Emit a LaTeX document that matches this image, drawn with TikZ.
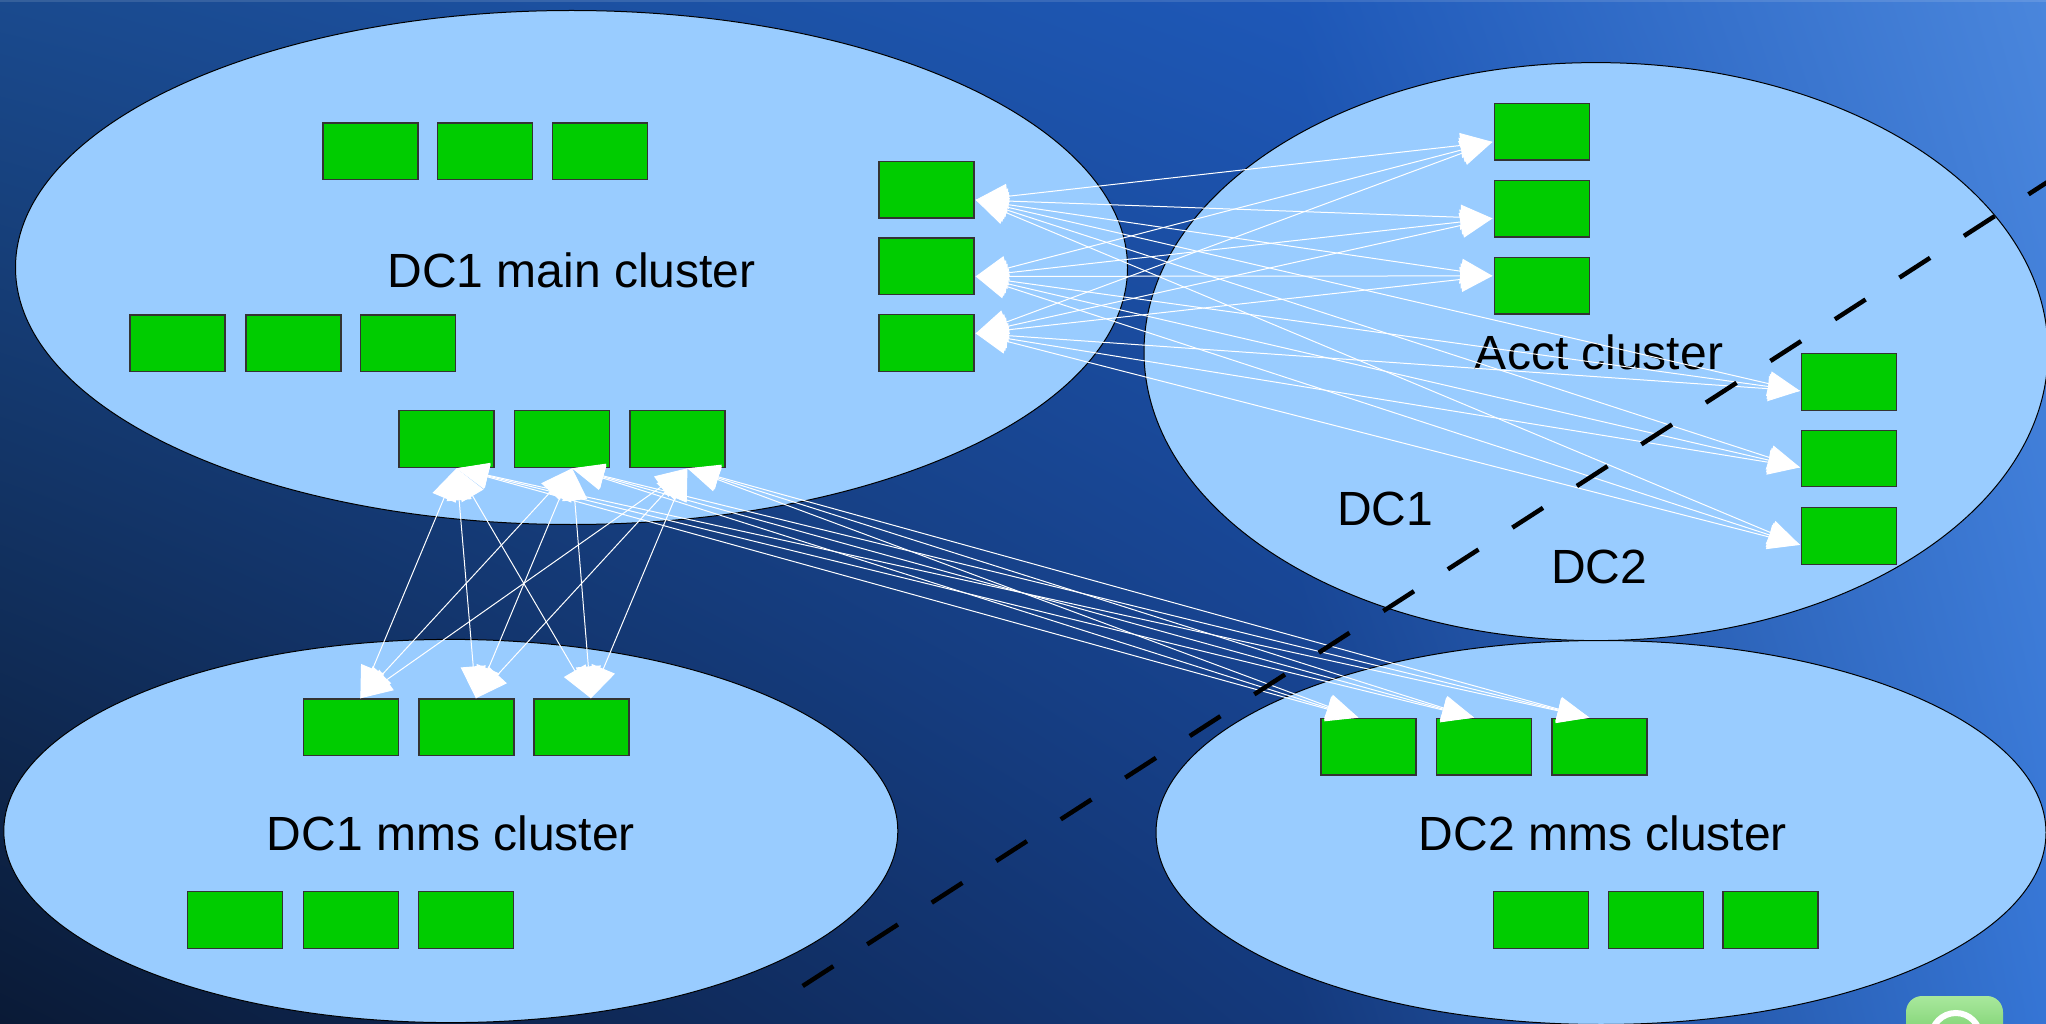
\documentclass[tikz,border=0pt]{standalone}
\usepackage{fontspec}
\setmainfont{Liberation Sans}
\usetikzlibrary{arrows.meta,calc,shadings}

\definecolor{skyUL}{HTML}{1A4A8E}
\definecolor{skyLL}{HTML}{0A1A36}
\definecolor{skyUM}{HTML}{1E58B8}
\definecolor{skyLM}{HTML}{14397C}
\definecolor{skyUR}{HTML}{4A86DC}
\definecolor{skyLR}{HTML}{3575D5}
\definecolor{cloudfill}{HTML}{99CCFF}
\definecolor{hostfill}{HTML}{00CC00}
\definecolor{iconTop}{HTML}{A8E89C}
\definecolor{iconBot}{HTML}{5CBF50}

\tikzset{
  cluster/.style={draw=black, line width=1pt, fill=cloudfill},
  host/.style={draw=black!80, line width=1.3pt, fill=hostfill,
    minimum width=95pt, minimum height=56.5pt, inner sep=0pt, anchor=north west},
  clustername/.style={font=\fontsize{48}{56}\selectfont, anchor=base, inner sep=0pt, text=black},
  wire/.style={draw=white, line width=1pt, >={Triangle[length=32pt,width=25pt]}, <->},
  dcsplit/.style={draw=black, line width=4.5pt, dash pattern=on 36.5pt off 40.3pt},
}

\begin{document}
\begin{tikzpicture}[x=1pt,y=-1pt]
\useasboundingbox (0,0) rectangle (2046,1024);
\clip (0,0) rectangle (2046,1024);

% backdrop: navy in the lower left, brightening towards the right edge
\shade[upper left=skyUL, upper right=skyUM, lower left=skyLL, lower right=skyLM]
  (0,0) rectangle (1300.5,1024);
\shade[upper left=skyUM, upper right=skyUR, lower left=skyLM, lower right=skyLR]
  (1300,0) rectangle (2046,1024);
\fill[white, opacity=0.12] (0,0) rectangle (2046,2);

% the four clusters
\draw[cluster] (571.5,267.5) ellipse [x radius=556, y radius=257];
\draw[cluster] (1596,351.6) ellipse [x radius=452, y radius=289];
\draw[cluster] (450.8,831) ellipse [x radius=447, y radius=191.6];
\draw[cluster] (1601,832.5) ellipse [x radius=445, y radius=192];

% cluster names
\node[clustername] (nmain) at (571.7,287.4) {DC1 main cluster};
\node[clustername] (nacct) at (1599,370) {Acct cluster};
\node[clustername] (ndca) at (1385,525) {DC1};
\node[clustername] (ndcb) at (1599,583.3) {DC2};
\node[clustername] (nmmsa) at (450.8,850) {DC1 mms cluster};
\node[clustername] (nmmsb) at (1603,850) {DC2 mms cluster};

% DC1 main cluster hosts
\node[host] (mt1) at (322.3,122.5) {};
\node[host] (mt2) at (437.1,122.5) {};
\node[host] (mt3) at (551.9,122.5) {};
\node[host] (mm1) at (129.2,314.5) {};
\node[host] (mm2) at (245.3,314.5) {};
\node[host] (mm3) at (360.1,314.5) {};
\node[host] (mb1) at (398.3,410) {};
\node[host] (mb2) at (514,410) {};
\node[host] (mb3) at (629.3,410) {};
\node[host] (mr1) at (878.4,161) {};
\node[host] (mr2) at (878.4,237.5) {};
\node[host] (mr3) at (878.4,314) {};

% Acct cluster hosts
\node[host] (al1) at (1493.5,103) {};
\node[host] (al2) at (1493.5,180) {};
\node[host] (al3) at (1493.5,257) {};
\node[host] (ar1) at (1801,353) {};
\node[host] (ar2) at (1801,429.5) {};
\node[host] (ar3) at (1801,507) {};

% DC1 mms cluster hosts
\node[host] (dt1) at (302.7,698.3) {};
\node[host] (dt2) at (418.3,698.3) {};
\node[host] (dt3) at (533.3,698.3) {};
\node[host] (db1) at (186.6,891) {};
\node[host] (db2) at (302.7,891) {};
\node[host] (db3) at (417.5,891) {};

% DC2 mms cluster hosts
\node[host] (et1) at (1320.3,717.7) {};
\node[host] (et2) at (1436,717.7) {};
\node[host] (et3) at (1551.3,717.7) {};
\node[host] (eb1) at (1492.7,891) {};
\node[host] (eb2) at (1607.5,891) {};
\node[host] (eb3) at (1722.3,891) {};

% attachment points of the links
\coordinate (pin-mr1) at ($(mr1.east)+(1,10)$);
\coordinate (pin-mr2) at ($(mr2.east)+(1,10)$);
\coordinate (pin-mr3) at ($(mr3.east)+(1,-9.5)$);
\coordinate (pin-al1) at ($(al1.west)+(-1,10)$);
\coordinate (pin-al2) at ($(al2.west)+(-1,9.5)$);
\coordinate (pin-al3) at ($(al3.west)+(-1,-10)$);
\foreach \k in {1,2,3} {
  \coordinate (pin-ar\k) at ($(ar\k.west)+(-1,9)$);
  \coordinate (pin-mb\k) at ($(mb\k.south)+(10,0.5)$);
  \coordinate (pin-dt\k) at ($(dt\k.north)+(9.5,0)$);
  \coordinate (pin-et\k) at ($(et\k.north)+(-10,0)$);
}

% replication links
\foreach \a in {mr1,mr2,mr3}
  \foreach \b in {al1,al2,al3,ar1,ar2,ar3}
    \draw[wire] (pin-\a) -- (pin-\b);
\foreach \a in {mb1,mb2,mb3}
  \foreach \b in {dt1,dt2,dt3,et1,et2,et3}
    \draw[wire] (pin-\a) -- (pin-\b);

% border between the two data centres
\draw[dcsplit] (802.7,986) -- (2200,83.5);

% corner badge
\shade[top color=iconTop, bottom color=iconBot, rounded corners=16pt]
  (1906,996) rectangle (2003,1070);
\draw[white, line width=6pt] (1955.8,1037.5) circle [radius=24.5];
\end{tikzpicture}
\end{document}
